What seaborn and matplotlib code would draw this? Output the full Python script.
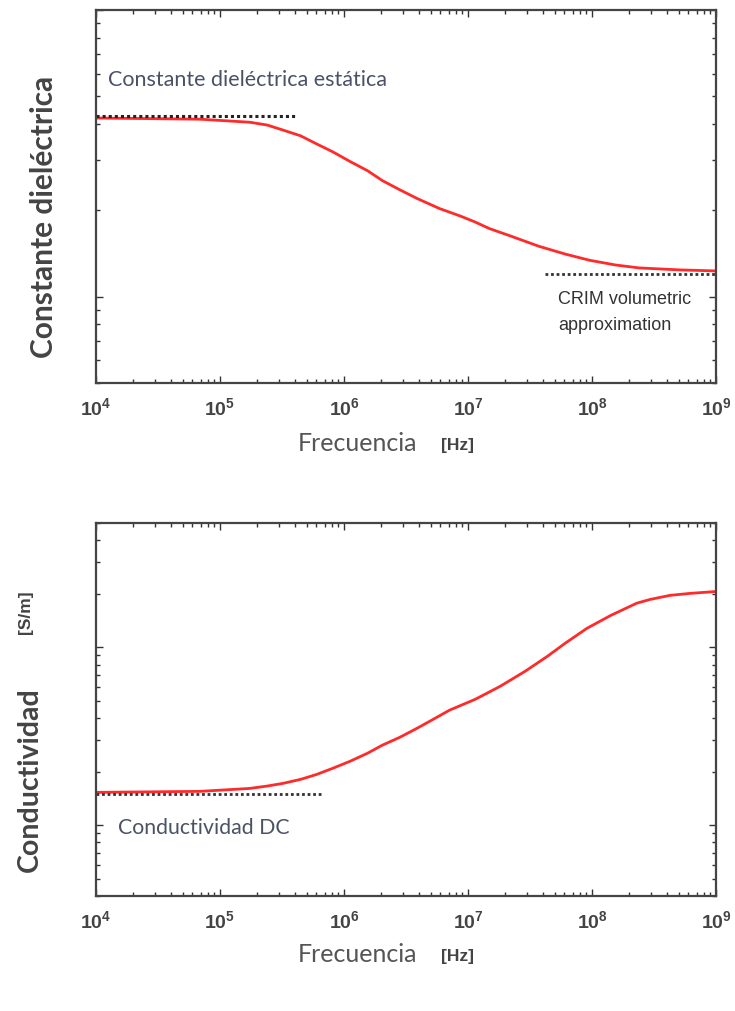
import numpy as np
import pandas as pd
import matplotlib
matplotlib.use("Agg")
import matplotlib.pyplot as plt
import matplotlib.ticker as mticker
import seaborn as sns

# ==============================
# DATA
# ==============================
freq_eps = [1e4, 10**4.84, 10**5.24, 10**5.38, 10**5.51, 10**5.65, 10**5.78,
            10**5.91, 10**6.05, 10**6.19, 10**6.31, 10**6.45, 10**6.59, 10**6.77,
            10**6.94, 10**7.06, 10**7.17, 10**7.34, 10**7.57, 10**7.78, 10**7.98,
            10**8.19, 10**8.38, 10**8.71, 1e9]
eps_vals = [42.0, 41.6, 40.6, 39.7, 38.1, 36.4, 34.1,
            32.0, 29.6, 27.5, 25.4, 23.6, 22.0, 20.3,
            19.1, 18.2, 17.3, 16.3, 15.0, 14.1, 13.4,
            12.9, 12.6, 12.4, 12.3]

freq_sig = [1e4, 10**4.84, 10**5.24, 10**5.38, 10**5.51, 10**5.65, 10**5.78,
            10**5.91, 10**6.05, 10**6.19, 10**6.31, 10**6.45, 10**6.59, 10**6.72,
            10**6.85, 10**7.06, 10**7.26, 10**7.46, 10**7.64, 10**7.78, 10**7.96,
            10**8.15, 10**8.36, 10**8.47, 10**8.63, 10**8.79, 1e9]
sig_vals = [0.0153, 0.0155, 0.0161, 0.0166, 0.0172, 0.0181, 0.0193,
            0.0209, 0.0229, 0.0254, 0.0282, 0.0312, 0.0351, 0.0394,
            0.0443, 0.0511, 0.0604, 0.0733, 0.0890, 0.105, 0.128,
            0.151, 0.177, 0.186, 0.196, 0.201, 0.206]

eps_static = 42.8        # dotted line, "Constante dieléctrica estática"
eps_static_x = [1e4, 10**5.61]
eps_crim = 12.0          # dotted line, "CRIM volumetric approximation"
eps_crim_x = [10**7.62, 1e9]
sig_dc = 0.0149          # dotted line, "Conductividad DC"
sig_dc_x = [1e4, 10**5.83]

x_ticks = [1e4, 1e5, 1e6, 1e7, 1e8, 1e9]
x_labels = [r"$\mathbf{10^{4}}$", r"$\mathbf{10^{5}}$", r"$\mathbf{10^{6}}$",
            r"$\mathbf{10^{7}}$", r"$\mathbf{10^{8}}$", r"$\mathbf{10^{9}}$"]

df_eps = pd.DataFrame({"f": freq_eps, "v": eps_vals})
df_sig = pd.DataFrame({"f": freq_sig, "v": sig_vals})

# ==============================
# STYLE
# ==============================
sns.set_style("ticks")
plt.rcParams["font.family"] = ["Liberation Sans", "DejaVu Sans"]
plt.rcParams["mathtext.fontset"] = "custom"
plt.rcParams["mathtext.rm"] = "Liberation Sans"
plt.rcParams["mathtext.it"] = "Liberation Sans"
plt.rcParams["mathtext.bf"] = "Liberation Sans:bold"

fig = plt.figure(figsize=(7.35, 10.11), dpi=100)
W, H = 735, 1011
ax1 = fig.add_axes([96 / W, 1 - 383 / H, 620 / W, 373 / H])
ax2 = fig.add_axes([96 / W, 1 - 896 / H, 620 / W, 373 / H])

red = "#ff2a2a"
label_col = "#4a5264"


def style_axes(ax, ylim):
    ax.set_xscale("log")
    ax.set_yscale("log")
    ax.set_xlim(1e4, 1e9)
    ax.set_ylim(*ylim)
    ax.set_xticks(x_ticks)
    ax.set_xticklabels(x_labels)
    ax.xaxis.set_minor_locator(mticker.LogLocator(base=10, subs=np.arange(2, 10)))
    ax.yaxis.set_minor_locator(mticker.LogLocator(base=10, subs=np.arange(2, 10)))
    ax.yaxis.set_major_formatter(mticker.NullFormatter())
    ax.yaxis.set_minor_formatter(mticker.NullFormatter())
    ax.xaxis.set_minor_formatter(mticker.NullFormatter())
    ax.tick_params(which="both", direction="in", top=True, right=True,
                   color="#333333", width=1.0)
    ax.tick_params(which="major", length=5, labelsize=14, labelcolor="#444444", pad=10)
    ax.tick_params(which="minor", length=3)
    for s in ax.spines.values():
        s.set_linewidth(1.6)
        s.set_color("#444444")
    ax.set_xlabel("")
    ax.set_ylabel("")


# ---- top: dielectric constant
sns.lineplot(data=df_eps, x="f", y="v", ax=ax1, color=red, linewidth=2.0)
ax1.plot(eps_static_x, [eps_static, eps_static], ls=(0, (1.0, 1.0)), color="#222222", lw=2.2)
ax1.plot(eps_crim_x, [eps_crim, eps_crim], ls=(0, (1.0, 1.0)), color="#333333", lw=2.0)
style_axes(ax1, (5, 100))

# ---- bottom: conductivity
sns.lineplot(data=df_sig, x="f", y="v", ax=ax2, color=red, linewidth=2.0)
ax2.plot(sig_dc_x, [sig_dc, sig_dc], ls=(0, (1.0, 1.0)), color="#333333", lw=2.0)
style_axes(ax2, (0.004, 0.5))

# ==============================
# TEXT
# ==============================
def px(x, y):
    return x / W, 1 - y / H

fig.text(*px(108, 80), "Constante dieléctrica estática", family=["Lato", "DejaVu Sans"],
         fontsize=15.5, color=label_col, ha="left", va="center")
fig.text(*px(558, 300), "CRIM volumetric", fontsize=13, color="#333333",
         ha="left", va="center")
fig.text(*px(558, 326), "approximation", fontsize=13, color="#333333",
         ha="left", va="center")
fig.text(*px(118, 828), "Conductividad DC", family=["Lato", "DejaVu Sans"],
         fontsize=15.3, color=label_col, ha="left", va="center")

fig.text(*px(44, 217), "Constante dieléctrica", family=["Lato", "DejaVu Sans"],
         fontsize=21.5, fontweight="bold", color="#444444", rotation=90,
         ha="center", va="center")
fig.text(*px(30, 780), "Conductividad", family=["Lato", "DejaVu Sans"],
         fontsize=20.5, fontweight="bold", color="#444444", rotation=90,
         ha="center", va="center")
fig.text(*px(25, 612), "[S/m]", fontsize=12.5, fontweight="bold", color="#444444",
         rotation=90, ha="center", va="center")

for y in (443, 955):
    fig.text(*px(358, y), "Frecuencia", family=["Lato", "DejaVu Sans"],
             fontsize=18, color="#555555", ha="center", va="center")
    fig.text(*px(457, y + 2), "[Hz]", fontsize=12.5, fontweight="bold",
             color="#444444", ha="center", va="center")

fig.savefig("out.png", dpi=100)
